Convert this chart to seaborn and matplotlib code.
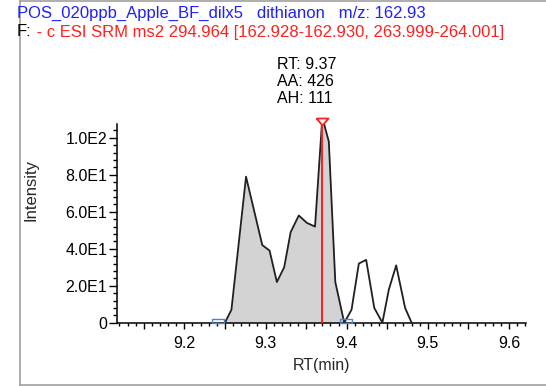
import matplotlib
matplotlib.use("Agg")
import matplotlib.pyplot as plt
import numpy as np
import pandas as pd
import seaborn as sns
from matplotlib.ticker import MultipleLocator, FuncFormatter
from matplotlib.lines import Line2D

# ---- data ----
rt = [9.250, 9.258, 9.276, 9.296, 9.305, 9.314, 9.323, 9.331, 9.341, 9.351,
      9.361, 9.370, 9.378, 9.386, 9.397, 9.406, 9.415, 9.424, 9.434, 9.444,
      9.452, 9.461, 9.472, 9.480]
intensity = [0, 7, 79, 42, 39, 22, 30, 49, 58, 54,
             52, 111, 98, 22, 0, 7, 32, 34, 8, 0,
             18, 31, 8, 0]

peak_start = 9.241
peak_end = 9.3995
peak_rt = 9.37
peak_area = 426
peak_height = 111

y_ticks = [0, 20, 40, 60, 80, 100]
y_tick_labels = ["0", "2.0E1", "4.0E1", "6.0E1", "8.0E1", "1.0E2"]

title_1 = "POS_020ppb_Apple_BF_dilx5   dithianon   m/z: 162.93"
title_2a = "F:"
title_2b = " - c ESI SRM ms2 294.964 [162.928-162.930, 263.999-264.001]"

# ---- style ----
sns.set_style("white")
plt.rcParams["font.family"] = ["Liberation Sans", "DejaVu Sans"]

W, H = 546, 386
fig = plt.figure(figsize=(W / 100, H / 100), dpi=100)
ax_l, ax_r, ax_b, ax_t = 117, 525.7, 322.7, 124
ax = fig.add_axes([ax_l / W, 1 - ax_b / H, (ax_r - ax_l) / W, (ax_b - ax_t) / H])

df = pd.DataFrame({"RT": rt, "Intensity": intensity})
in_peak = (df["RT"] >= peak_start) & (df["RT"] <= peak_end)
ax.fill_between(df.loc[in_peak, "RT"], df.loc[in_peak, "Intensity"],
                color="#d3d3d3", lw=0, zorder=1)
sns.lineplot(data=df, x="RT", y="Intensity", sort=False, estimator=None,
             color="#202020", lw=1.3, ax=ax, zorder=3)

# peak apex line and marker
ax.vlines(peak_rt, 0, peak_height, color="#ff2020", lw=1.4, zorder=4)
tri = [(-6, 0), (6, 0), (0, -7), (-6, 0)]
ax.plot([peak_rt], [peak_height], marker=tri, ms=10, mfc="none", mec="#ff2020",
        mew=1.3, ls="none", zorder=5, clip_on=False)

# peak boundary markers
rect = [(-3, 0), (3, 0), (3, 2), (-3, 2), (-3, 0)]
ax.plot([peak_start, peak_end], [0, 0], marker=rect, ms=8.6, mfc="none",
        mec="#4a86c8", mew=1.0, ls="none", zorder=6, clip_on=False)

ax.annotate(f"RT: {peak_rt:.2f}\nAA: {peak_area}\nAH: {peak_height}",
            xy=(peak_rt, peak_height), xytext=(-32.5, 8), textcoords="offset points",
            ha="left", va="bottom", fontsize=11.5, color="black",
            annotation_clip=False)

# axes
ax.set_xlim(9.117, 9.6206)
ax.set_ylim(0, 107.5)
sns.despine(ax=ax)
for s in ["left", "bottom"]:
    ax.spines[s].set_color("black")
    ax.spines[s].set_linewidth(1.1)

ax.xaxis.set_major_locator(MultipleLocator(0.05))
ax.xaxis.set_minor_locator(MultipleLocator(0.01))
ax.xaxis.set_major_formatter(FuncFormatter(
    lambda v, p: f"{v:.1f}" if abs(round(v * 10) - v * 10) < 1e-6 else ""))
ax.yaxis.set_major_locator(matplotlib.ticker.FixedLocator(y_ticks))
ax.yaxis.set_major_formatter(matplotlib.ticker.FixedFormatter(y_tick_labels))
ax.yaxis.set_minor_locator(MultipleLocator(4))

ax.tick_params(axis="both", which="both", direction="out", color="black",
               labelcolor="black", labelsize=11.5, width=1.0)
ax.tick_params(axis="x", which="major", length=4.5, pad=5)
ax.tick_params(axis="x", which="minor", length=2.3)
ax.tick_params(axis="y", which="major", length=5.5, pad=1.5)
ax.tick_params(axis="y", which="minor", length=3.0)
ax.tick_params(left=True, bottom=True, which="both")

ax.set_xlabel("RT(min)", fontsize=11.5, labelpad=5)
ax.set_ylabel("Intensity", fontsize=12)
ax.yaxis.set_label_coords((39 - ax_l) / (ax_r - ax_l), (ax_b - 190) / (ax_b - ax_t))

# titles
fig.text(17 / W, 1 - 13 / H, title_1, color="#2020ff", fontsize=12,
         ha="left", va="center")
t2 = fig.text(17 / W, 1 - 32 / H, title_2a, color="black", fontsize=12,
              ha="left", va="center")
ax.annotate(title_2b, xy=(1, 0.5), xycoords=t2, ha="left", va="center",
            color="#ff2020", fontsize=12, annotation_clip=False)

# outer frame
fc = "#a0a0a0"
fig.add_artist(Line2D([19.5 / W, 19.5 / W], [0, 1], transform=fig.transFigure, color=fc, lw=1.2))
fig.add_artist(Line2D([19.5 / W, 1], [1 - 384.5 / H] * 2, transform=fig.transFigure, color=fc, lw=1.2))
fig.add_artist(Line2D([19.5 / W, 1], [1 - 0.5 / H] * 2, transform=fig.transFigure, color=fc, lw=1.2))

fig.savefig("out.png", dpi=100)
